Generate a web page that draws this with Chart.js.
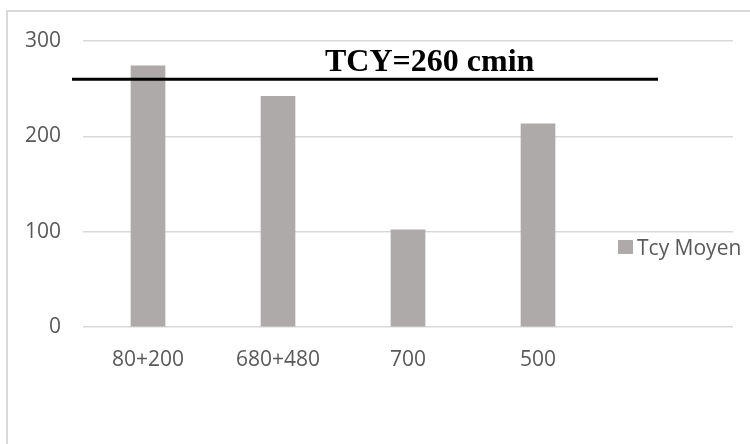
<!DOCTYPE html>
<html>
<head>
<meta charset="utf-8">
<script src="https://cdn.jsdelivr.net/npm/chart.js@4.4.1/dist/chart.umd.min.js"></script>
<style>
  html, body { margin: 0; padding: 0; background: #ffffff; }
  #wrap { position: relative; width: 750px; height: 444px; }
</style>
</head>
<body>
<div id="wrap"><canvas id="chart" width="750" height="444"></canvas></div>
<script>
// Categories (the fifth slot is left empty, as in the workbook range)
const categories = ['80+200', '680+480', '700', '500', ''];
// Average cycle time per configuration
const tcyMoyen = [274, 242, 102, 213, null];
const seriesName = 'Tcy Moyen';
// Y axis range and step
const yMin = 0;
const yMax = 300;
const yStep = 100;
// Target cycle time reference line
const tcyTarget = 260;
const targetLabel = 'TCY=260 cmin';

const labelFont = '"Open Sans", "Noto Sans", sans-serif';
const barColor = '#aeaaaa';
const gridColor = '#d9d9d9';
const textColor = '#595959';

// Light frame around the whole chart object
const framePlugin = {
  id: 'frame',
  beforeDraw(chart) {
    const ctx = chart.ctx;
    ctx.save();
    ctx.strokeStyle = gridColor;
    ctx.lineWidth = 2;
    ctx.strokeRect(7, 11, 800, 500);
    ctx.restore();
  }
};

// Horizontal target line with its bold caption
const targetPlugin = {
  id: 'target',
  afterDatasetsDraw(chart) {
    const ctx = chart.ctx;
    const y = chart.scales.y.getPixelForValue(tcyTarget);
    ctx.save();
    ctx.strokeStyle = '#000000';
    ctx.lineWidth = 3;
    ctx.beginPath();
    ctx.moveTo(72, y);
    ctx.lineTo(658, y);
    ctx.stroke();
    ctx.fillStyle = '#000000';
    ctx.font = 'bold 32px "Liberation Serif", "DejaVu Serif", serif';
    ctx.textBaseline = 'alphabetic';
    ctx.textAlign = 'left';
    ctx.fillText(targetLabel, 325, y - 8);
    ctx.restore();
  }
};

// Series key placed inside the right part of the plot
const keyPlugin = {
  id: 'key',
  afterDraw(chart) {
    const ctx = chart.ctx;
    const ds = chart.data.datasets[0];
    ctx.save();
    ctx.fillStyle = ds.backgroundColor;
    ctx.fillRect(618, 240, 15, 14);
    ctx.fillStyle = textColor;
    ctx.font = '21px ' + labelFont;
    ctx.textBaseline = 'alphabetic';
    ctx.textAlign = 'left';
    ctx.fillText(ds.label, 637, 255);
    ctx.restore();
  }
};

new Chart(document.getElementById('chart'), {
  type: 'bar',
  data: {
    labels: categories,
    datasets: [{
      label: seriesName,
      data: tcyMoyen,
      backgroundColor: barColor,
      borderWidth: 0,
      barThickness: 34
    }]
  },
  options: {
    responsive: false,
    animation: false,
    devicePixelRatio: 1,
    layout: { padding: { left: 0, top: 41, right: 17, bottom: 0 } },
    plugins: {
      legend: { display: false },
      tooltip: { enabled: false }
    },
    scales: {
      x: {
        grid: { display: false, drawTicks: false },
        border: { display: false },
        ticks: {
          color: textColor,
          font: { family: labelFont, size: 21 },
          padding: 20,
          maxRotation: 0
        },
        afterFit(scale) { scale.height = 117; }
      },
      y: {
        min: yMin,
        max: yMax,
        grid: { color: gridColor, lineWidth: 1.5, drawTicks: false },
        border: { display: false },
        ticks: {
          stepSize: yStep,
          color: textColor,
          font: { family: labelFont, size: 21 },
          padding: 22
        },
        afterFit(scale) { scale.width = 83; }
      }
    }
  },
  plugins: [framePlugin, targetPlugin, keyPlugin]
});
</script>
</body>
</html>
